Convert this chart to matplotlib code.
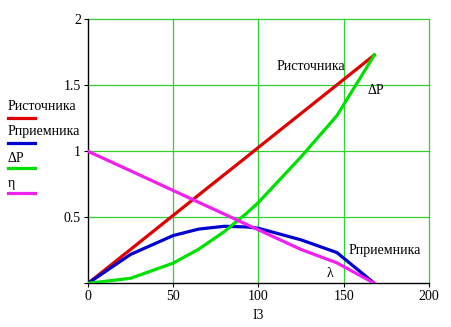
import numpy as np
import matplotlib
matplotlib.use("Agg")
import matplotlib.pyplot as plt

# load current I3 and power values read at the measurement points
I3 = [0, 25, 50, 65, 80, 93, 100, 125, 146, 168]
P_source = [0, 0.257, 0.515, 0.67, 0.824, 0.957, 1.03, 1.287, 1.503, 1.73]
P_load = [0, 0.219, 0.362, 0.411, 0.432, 0.427, 0.417, 0.329, 0.233, 0]
dP = [0, 0.038, 0.153, 0.259, 0.392, 0.53, 0.613, 0.958, 1.27, 1.73]
eta = [1, 0.852, 0.703, 0.613, 0.524, 0.446, 0.405, 0.256, 0.155, 0]

xticks = [0, 50, 100, 150, 200]
yticks = [0, 0.5, 1, 1.5, 2]
ytick_labels = ["", "0.5", "1", "1.5", "2"]

series = [
    ("Pисточника", P_source, "#e00000"),
    ("Pприемника", P_load, "#0000d0"),
    ("\u0394P", dP, "#00e000"),
    ("\u03b7", eta, "#f020f0"),
]

plt.rcParams['font.family'] = ['Liberation Serif', 'DejaVu Serif']
fs = 10

fig = plt.figure(figsize=(4.52, 3.27), dpi=100)
ax = fig.add_axes([0.1947, 0.1336, 0.949 - 0.1947, 0.941 - 0.1336])

grid_c = "#30d030"
for x in xticks[1:]:
    ax.axvline(x, color=grid_c, lw=0.9, zorder=1, clip_on=False)
for y in yticks[1:]:
    ax.axhline(y, color=grid_c, lw=0.9, zorder=1, clip_on=False)

for name, vals, col in series:
    ax.plot(I3, vals, color=col, lw=2.3, zorder=3, solid_joinstyle='round')

ax.set_xlim(0, 200)
ax.set_ylim(0, 2)
ax.set_xticks(xticks)
ax.set_yticks(yticks)
ax.set_yticklabels(ytick_labels)
ax.tick_params(labelsize=fs, length=3, width=0.8, pad=2)
ax.set_xlabel("I3", fontsize=fs, labelpad=4)

for side in ("top", "right"):
    ax.spines[side].set_visible(False)
for side in ("left", "bottom"):
    ax.spines[side].set_color("black")
    ax.spines[side].set_linewidth(1.0)

# curve labels inside the plot
ax.text(131, 1.64, "Pисточника", fontsize=fs, ha="center", va="center")
ax.text(169, 1.46, "\u0394P", fontsize=fs, ha="center", va="center")
ax.text(174, 0.25, "Pприемника", fontsize=fs, ha="center", va="center")
ax.text(142, 0.075, "\u03bb", fontsize=fs, ha="center", va="center")

# legend drawn to the left of the axes
W, H = 452, 327
text_y = [107, 132, 158, 183]
line_y = [118, 143, 168, 193]
for (name, vals, col), ty, ly in zip(series, text_y, line_y):
    fig.text(8 / W, 1 - ty / H, name, fontsize=fs, ha="left", va="center")
    fig.add_artist(plt.Line2D([8 / W, 35 / W], [1 - ly / H, 1 - ly / H],
                              color=col, lw=2.3, transform=fig.transFigure))

fig.savefig("out.png", dpi=100)
